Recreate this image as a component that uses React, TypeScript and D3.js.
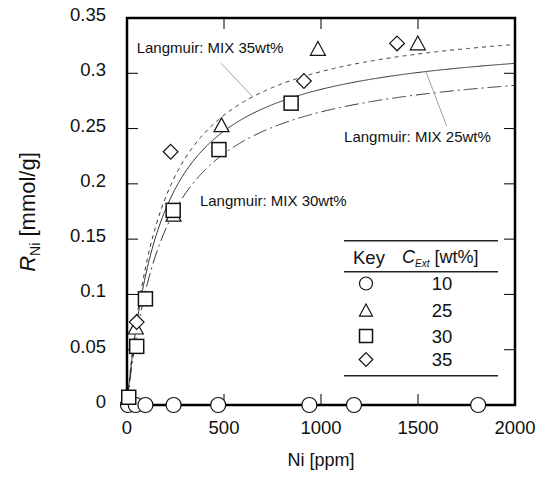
import React from "react";
import * as d3 from "d3";

const xTicks = [0, 500, 1000, 1500, 2000];
const yTicks = [0, 0.05, 0.1, 0.15, 0.2, 0.25, 0.3, 0.35];
const yTickLabels = ["0", "0.05", "0.1", "0.15", "0.2", "0.25", "0.3", "0.35"];

// C_Ext = 10 wt%
const circleX = [5, 45, 95, 240, 470, 940, 1170, 1810];
const circleY = [0, 0, 0, 0, 0, 0, 0, 0];
// C_Ext = 25 wt%
const triX = [45, 240, 487, 984, 1499];
const triY = [0.07, 0.172, 0.253, 0.322, 0.327];
// C_Ext = 30 wt%
const sqX = [9, 50, 95, 238, 474, 846];
const sqY = [0.007, 0.053, 0.096, 0.176, 0.231, 0.273];
// C_Ext = 35 wt%
const diaX = [50, 225, 912, 1392];
const diaY = [0.075, 0.229, 0.293, 0.327];

// Langmuir fits: 35wt% (short dash), 25wt% (solid), 30wt% (long dash)
const fitNames = ["MIX 35wt%", "MIX 25wt%", "MIX 30wt%"];
const fitQm = [0.3549, 0.3367, 0.3178];
const fitK = [0.005648, 0.00557, 0.005024];
const fitDash = ["4,4", "none", "14,4,2,4"];

const legendKeys = ["10", "25", "30", "35"];
const legendShapes = ["circle", "triangle", "square", "diamond"];

const FONT = "'Liberation Sans', Arial, Helvetica, sans-serif";

const x = d3.scaleLinear().domain([0, 2000]).range([127, 515]);
const y = d3.scaleLinear().domain([0, 0.35]).range([405, 18]);

function langmuir(i: number, c: number) {
  return (fitQm[i] * fitK[i] * c) / (1 + fitK[i] * c);
}

function Marker({ shape, cx, cy, s }: { shape: string; cx: number; cy: number; s: number }) {
  const h = s / 2;
  const common = { fill: "#fff", stroke: "#111", strokeWidth: 1.2 };
  if (shape === "circle") return <circle cx={cx} cy={cy} r={h} {...common} />;
  if (shape === "square")
    return <rect x={cx - h} y={cy - h} width={s} height={s} {...common} strokeWidth={1.5} />;
  if (shape === "triangle") {
    const th = s * 0.85;
    return (
      <path
        d={`M${cx},${cy - th / 2 - 1}L${cx + h},${cy + th / 2}L${cx - h},${cy + th / 2}Z`}
        {...common}
      />
    );
  }
  const r = h * 1.05;
  return <path d={`M${cx},${cy - r}L${cx + r},${cy}L${cx},${cy + r}L${cx - r},${cy}Z`} {...common} />;
}

export default function App() {
  const cs = d3.range(0, 2001, 5);
  const lineGen = (i: number) =>
    d3
      .line<number>()
      .x((c) => x(c))
      .y((c) => y(langmuir(i, c)))(cs) as string;

  const [x0, x1] = x.range();
  const [y0, y1] = y.range();
  const tickLen = 11;

  // annotation anchor points in data coordinates
  const lab35 = { c: 50, v: 0.318 };
  const lab25 = { c: 1119, v: 0.238 };
  const lab30 = { c: 376, v: 0.18 };
  const lead35 = [485, 0.309, 648];
  const lead25 = [1541, 1648, 0.252];

  const legX0 = 344, legX1 = 498;
  const legTop = 240.7, legHead = 271.7, legBot = 375.7;
  const rowY = [283.5, 310.5, 336, 359.5];

  return (
    <svg
      width={544}
      height={484}
      style={{ position: "absolute", left: 0, top: 0, background: "#fff" }}
      fontFamily={FONT}
    >
      <rect x={0} y={0} width={544} height={484} fill="#fff" />
      {/* curves */}
      {fitNames.map((n, i) => (
        <path
          key={n}
          d={lineGen(i)}
          fill="none"
          stroke="#333"
          strokeWidth={1}
          strokeDasharray={fitDash[i]}
        />
      ))}
      {/* leader lines */}
      <line
        x1={x(lead35[0])}
        y1={y(lead35[1])}
        x2={x(lead35[2])}
        y2={y(langmuir(0, lead35[2]))}
        stroke="#888"
        strokeWidth={0.8}
      />
      <line
        x1={x(lead25[0])}
        y1={y(langmuir(1, lead25[0]))}
        x2={x(lead25[1])}
        y2={y(lead25[2])}
        stroke="#888"
        strokeWidth={0.8}
      />
      <text x={x(lab35.c)} y={y(lab35.v)} fontSize={15} fill="#111">
        Langmuir: {fitNames[0]}
      </text>
      <text x={x(lab25.c)} y={y(lab25.v)} fontSize={15} fill="#111">
        Langmuir: {fitNames[1]}
      </text>
      <text x={x(lab30.c)} y={y(lab30.v)} fontSize={15} fill="#111">
        Langmuir: {fitNames[2]}
      </text>

      {/* ticks */}
      {xTicks.slice(1, -1).map((t) => (
        <g key={"xt" + t}>
          <line x1={x(t)} x2={x(t)} y1={y0} y2={y0 - tickLen} stroke="#000" strokeWidth={1} />
          <line x1={x(t)} x2={x(t)} y1={y1} y2={y1 + tickLen} stroke="#000" strokeWidth={1} />
        </g>
      ))}
      {yTicks.slice(1, -1).map((t) => (
        <g key={"yt" + t}>
          <line x1={x0} x2={x0 + tickLen} y1={y(t)} y2={y(t)} stroke="#000" strokeWidth={1} />
          <line x1={x1} x2={x1 - tickLen} y1={y(t)} y2={y(t)} stroke="#000" strokeWidth={1} />
        </g>
      ))}
      {/* frame */}
      <rect x={x0} y={y1} width={x1 - x0} height={y0 - y1} fill="none" stroke="#000" strokeWidth={2.5} />

      {/* tick labels */}
      {xTicks.map((t) => (
        <text key={"xl" + t} x={x(t)} y={434} fontSize={18.5} textAnchor="middle" fill="#111">
          {t}
        </text>
      ))}
      {yTicks.map((t, i) => (
        <text key={"yl" + t} x={106} y={y(t) + 3} fontSize={18.5} textAnchor="end" fill="#111">
          {yTickLabels[i]}
        </text>
      ))}
      {/* axis titles */}
      <text x={321} y={466} fontSize={18} textAnchor="middle" fill="#111">
        Ni [ppm]
      </text>
      <text transform="translate(35,212) rotate(-90)" fontSize={22} textAnchor="middle" fill="#111">
        <tspan fontStyle="italic">R</tspan>
        <tspan fontSize={14} dy={5}>Ni</tspan>
        <tspan dy={-5}> [mmol/g]</tspan>
      </text>

      {/* markers */}
      {circleX.map((c, i) => (
        <Marker key={"c" + i} shape="circle" cx={x(c)} cy={y(circleY[i])} s={15} />
      ))}
      {triX.map((c, i) => (
        <Marker key={"t" + i} shape="triangle" cx={x(c)} cy={y(triY[i])} s={15} />
      ))}
      {diaX.map((c, i) => (
        <Marker key={"d" + i} shape="diamond" cx={x(c)} cy={y(diaY[i])} s={14} />
      ))}
      {sqX.map((c, i) => (
        <Marker key={"s" + i} shape="square" cx={x(c)} cy={y(sqY[i])} s={14} />
      ))}

      {/* legend */}
      <line x1={legX0} x2={legX1} y1={legTop} y2={legTop} stroke="#222" strokeWidth={1.5} />
      <line x1={legX0} x2={legX1} y1={legHead} y2={legHead} stroke="#222" strokeWidth={1.5} />
      <line x1={legX0} x2={legX1} y1={legBot} y2={legBot} stroke="#222" strokeWidth={1.5} />
      <text x={353} y={264} fontSize={18.5} fill="#111">
        Key
      </text>
      <text x={402} y={263} fontSize={18} fill="#111">
        <tspan fontStyle="italic">C</tspan>
        <tspan fontStyle="italic" fontSize={10} dy={4}>Ext</tspan>
        <tspan dy={-4}> [wt%]</tspan>
      </text>
      {legendKeys.map((k, i) => (
        <g key={"lg" + k}>
          <Marker shape={legendShapes[i]} cx={366} cy={rowY[i]} s={13} />
          <text x={442} y={rowY[i] + 6.5} fontSize={18.5} textAnchor="middle" fill="#111">
            {k}
          </text>
        </g>
      ))}
    </svg>
  );
}
